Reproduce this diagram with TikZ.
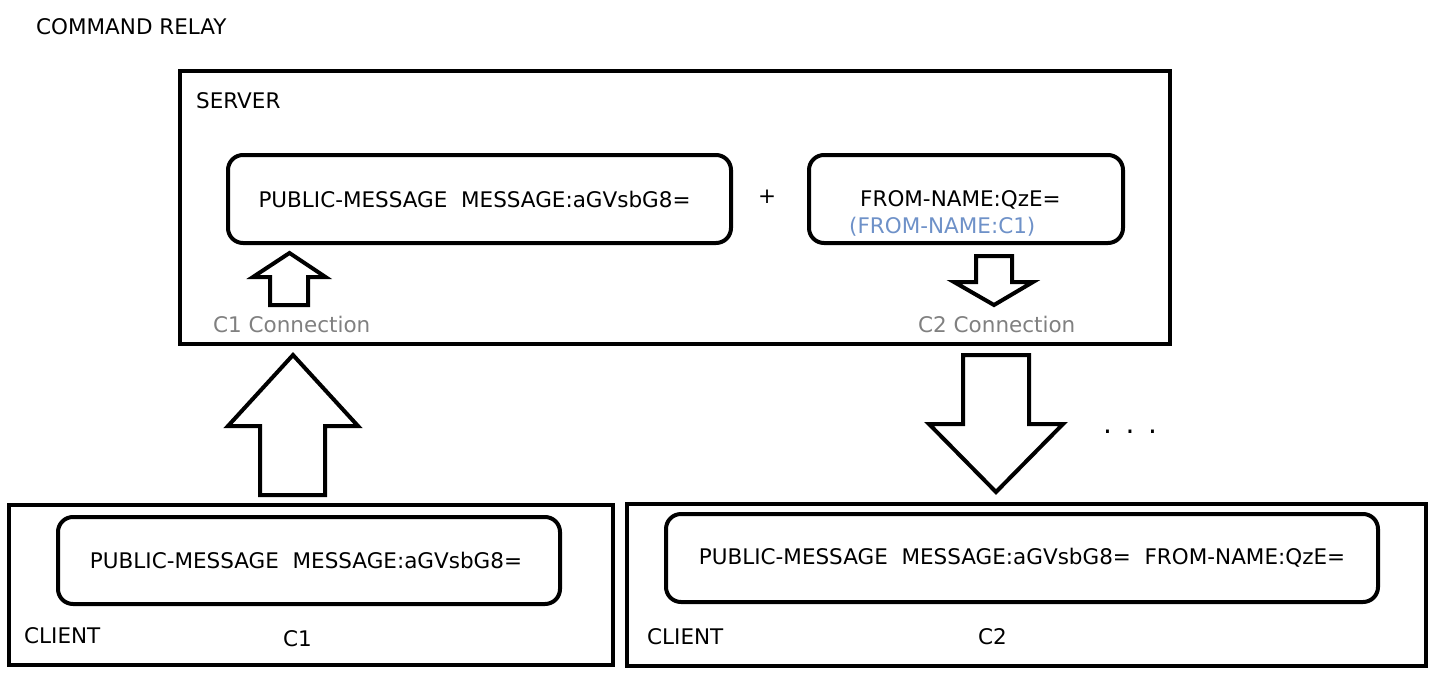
\documentclass[tikz,border=0pt]{standalone}
\usepackage{fontspec}
\setmainfont{DejaVu Sans}
\definecolor{labelgray}{RGB}{128,128,128}
\definecolor{noteblue}{RGB}{110,145,200}
\begin{document}
\begin{tikzpicture}[x=1pt,y=-1pt,
  every node/.style={font=\fontsize{21.5}{24}\selectfont, inner sep=0pt},
  outerbox/.style={draw, line width=4.5pt, minimum width=#1},
  msgbox/.style={draw, line width=4pt, rounded corners=15pt, minimum width=#1},
  blockarrow/.style={draw, line width=4pt, line join=miter, fill=white},
  txt/.style={anchor=base west},
  conn/.style={anchor=base west, text=labelgray}]
\useasboundingbox (0,0) rectangle (1438,675);

% title
\node[txt] (title) at (36,34) {COMMAND RELAY};

% server
\node[outerbox=990pt, minimum height=273pt] (server) at (675,207.5) {};
\node[txt] (serverlbl) at (196,108) {SERVER};
\node[msgbox=503pt, minimum height=88pt] (smsg) at (479.5,199) {\hspace*{-10pt}PUBLIC-MESSAGE\ \ MESSAGE:aGVsbG8=};
\node (plus) at (767,197) {+};
\node[msgbox=314pt, minimum height=88pt] (sfrom) at (966,199) {};
\node[txt] (fromname) at (860,206) {FROM-NAME:QzE=};
\node[txt, text=noteblue] (fromnote) at (849,233) {(FROM-NAME:C1)};
\node[conn] (c1conn) at (213,332) {C1 Connection};
\node[conn] (c2conn) at (918,332) {C2 Connection};

% small arrows in server
\draw[blockarrow] (289.5,253) -- (325.5,277) -- (308,277) -- (308,305) -- (270,305) -- (270,277) -- (253,277) -- cycle;
\draw[blockarrow] (976,256) -- (1012,256) -- (1012,282) -- (1033,282) -- (994,305) -- (954,282) -- (976,282) -- cycle;

% big arrows
\draw[blockarrow] (293,355) -- (358,426) -- (325,426) -- (325,495) -- (260,495) -- (260,426) -- (228,426) -- cycle;
\draw[blockarrow] (963,355) -- (1029,355) -- (1029,424) -- (1063,424) -- (996,492) -- (929,424) -- (963,424) -- cycle;

% dots
\node[txt, font=\fontsize{28}{30}\selectfont] (dots) at (1103,433) {.\hspace{13.6pt}.\hspace{13.6pt}.};

% client 1
\node[outerbox=604pt, minimum height=160pt] (client1) at (311,585) {};
\node[msgbox=502pt, minimum height=87pt] (c1msg) at (309,560.5) {\hspace*{-6pt}PUBLIC-MESSAGE\ \ MESSAGE:aGVsbG8=};
\node[txt] (c1lbl) at (24,643) {CLIENT};
\node[txt] (c1name) at (283,646) {C1};

% client 2
\node[outerbox=799pt, minimum height=162pt] (client2) at (1026.5,585) {};
\node[msgbox=712pt, minimum height=88pt] (c2msg) at (1022,558) {PUBLIC-MESSAGE\ \ MESSAGE:aGVsbG8=\ \ FROM-NAME:QzE=};
\node[txt] (c2lbl) at (647,644) {CLIENT};
\node[txt] (c2name) at (978,644) {C2};
\end{tikzpicture}
\end{document}
